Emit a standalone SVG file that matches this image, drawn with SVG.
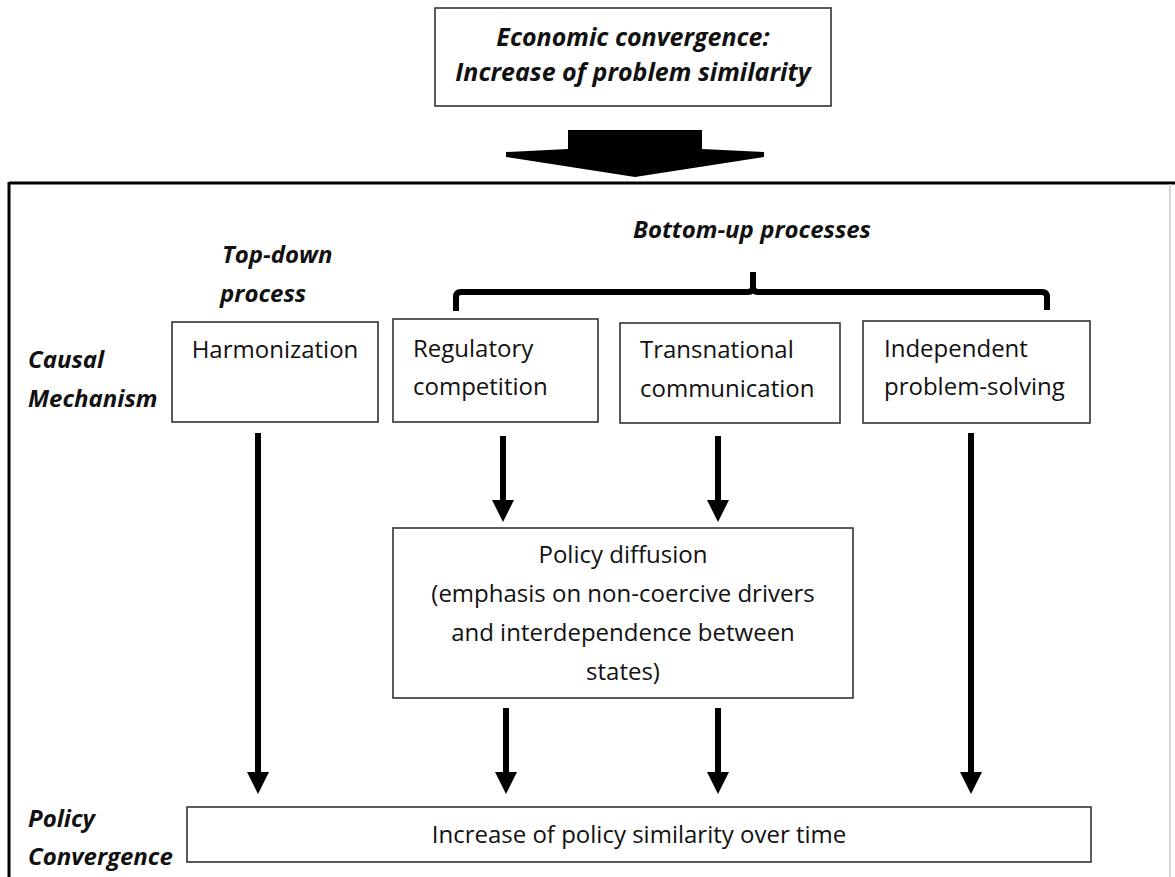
<svg xmlns="http://www.w3.org/2000/svg" width="1175" height="877" viewBox="0 0 1175 877">
<style>
.box{fill:#fff;stroke:#333;stroke-width:1.6}
.t{font-family:"Open Sans","Noto Sans",sans-serif;font-size:24px;fill:#111}
.bi{font-family:"Open Sans","Noto Sans",sans-serif;font-size:24px;font-weight:bold;font-style:italic;fill:#111}
.big{font-size:25px}
.conn{stroke:#000;stroke-width:6;fill:none}
</style>
<defs>
<marker id="ah" markerUnits="userSpaceOnUse" markerWidth="22" markerHeight="22" refX="0" refY="11" orient="auto" viewBox="0 0 22 22">
<path d="M0,0 L22,11 L0,22 Z" fill="#000"/>
</marker>
</defs>
<rect width="1175" height="877" fill="#fff"/>
<g id="frame">
<line x1="9" y1="183" x2="1175" y2="183" stroke="#000" stroke-width="3"/>
<line x1="9" y1="182" x2="9" y2="877" stroke="#000" stroke-width="3"/>
<line x1="1170" y1="184" x2="1170" y2="877" stroke="#ccc" stroke-width="1.5"/>
</g>
<g id="economic-convergence">
<rect class="box" x="435" y="8" width="396" height="98" stroke-width="2"/>
<text class="bi big" x="633" y="46" text-anchor="middle">Economic convergence:</text>
<text class="bi big" x="633" y="81" text-anchor="middle">Increase of problem similarity</text>
</g>
<g id="big-arrow">
<polygon points="568,130 702,130 702,149 764,152 764,157 635,177 506,157 506,152 568,149" fill="#000"/>
</g>
<g id="labels">
<text class="bi" x="222" y="263">Top-down</text>
<text class="bi" x="220" y="302">process</text>
<text class="bi" x="752" y="238" text-anchor="middle">Bottom-up processes</text>
<text class="bi" x="28" y="368">Causal</text>
<text class="bi" x="28" y="407">Mechanism</text>
<text class="bi" x="28" y="827">Policy</text>
<text class="bi" x="28" y="865">Convergence</text>
</g>
<g id="harmonization">
<rect class="box" x="172" y="322" width="206" height="100"/>
<text class="t" x="275" y="358" text-anchor="middle">Harmonization</text>
</g>
<g id="regulatory-competition">
<rect class="box" x="393" y="319" width="205" height="103"/>
<text class="t" x="413" y="357">Regulatory</text>
<text class="t" x="413" y="395">competition</text>
</g>
<g id="transnational-communication">
<rect class="box" x="620" y="323" width="220" height="100"/>
<text class="t" x="640" y="358">Transnational</text>
<text class="t" x="640" y="397">communication</text>
</g>
<g id="independent-problem-solving">
<rect class="box" x="863" y="321" width="227" height="102"/>
<text class="t" x="884" y="357">Independent</text>
<text class="t" x="884" y="395">problem-solving</text>
</g>
<g id="policy-diffusion">
<rect class="box" x="393" y="528" width="460" height="170"/>
<text class="t" x="623" y="563" text-anchor="middle">Policy diffusion</text>
<text class="t" x="623" y="602" text-anchor="middle">(emphasis on non-coercive drivers</text>
<text class="t" x="623" y="641" text-anchor="middle">and interdependence between</text>
<text class="t" x="623" y="680" text-anchor="middle">states)</text>
</g>
<g id="policy-similarity">
<rect class="box" x="187" y="807" width="904" height="55"/>
<text class="t" x="639" y="843" text-anchor="middle">Increase of policy similarity over time</text>
</g>
<g id="connectors">
<path class="conn" stroke-linejoin="round" d="M456,311 V297 Q456,292 461,292 H748 Q753,292 753,287 V272 M753,287 Q753,292 758,292 H1042 Q1047,292 1047,297 V310"/>
<line class="conn" x1="258" y1="433" x2="258" y2="772" marker-end="url(#ah)"/>
<line class="conn" x1="503" y1="436" x2="503" y2="500" marker-end="url(#ah)"/>
<line class="conn" x1="718" y1="436" x2="718" y2="500" marker-end="url(#ah)"/>
<line class="conn" x1="971" y1="433" x2="971" y2="772" marker-end="url(#ah)"/>
<line class="conn" x1="506" y1="708" x2="506" y2="772" marker-end="url(#ah)"/>
<line class="conn" x1="718" y1="708" x2="718" y2="772" marker-end="url(#ah)"/>
</g>
</svg>
